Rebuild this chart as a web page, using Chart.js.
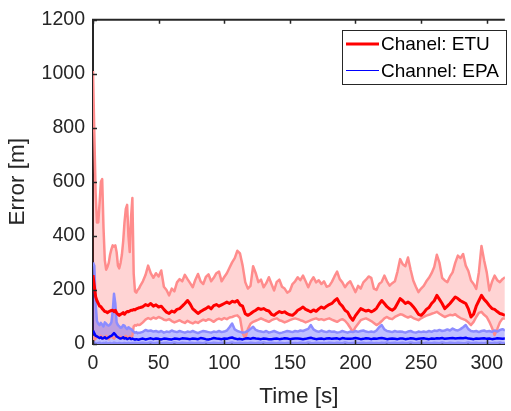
<!DOCTYPE html>
<html><head><meta charset="utf-8">
<script src="https://cdn.jsdelivr.net/npm/chart.js@4/dist/chart.umd.min.js"></script>
<style>html,body{margin:0;padding:0;background:#fff;overflow:hidden}#wrap{width:511px;height:411px;position:relative}canvas{display:block}</style>
</head><body><div id="wrap"><canvas id="c" width="511" height="411"></canvas></div>
<script>
const time = [0,1,2,3,4,5,6,7,8,9,10,11,12,13,14,15,16,17,18,19,20,21,22,23,24,25,26,27,28,29,30,31,32,33,34,35,
36,38,40,42,44,46,48,50,52,54,
56,58,60,62,64,66,68,70,72,74,
76,78,80,82,84,86,88,90,92,94,
96,98,100,102,104,106,108,110,112,114,
116,118,120,122,124,126,128,130,132,134,
136,138,140,142,144,146,148,150,152,154,
156,158,160,162,164,166,168,170,172,174,
176,178,180,182,184,186,188,190,192,194,
196,198,200,202,204,206,208,210,212,214,
216,218,220,222,224,226,228,230,232,234,
236,238,240,242,244,246,248,250,252,254,
256,258,260,262,264,266,268,270,272,274,
276,278,280,282,284,286,288,290,292,294,
296,298,300,302,304,306,308,310,312,314];

const etuUpper = [1010,780,560,450,450,520,600,610,430,310,275,285,300,330,350,365,360,365,340,290,280,300,330,380,450,500,515,400,340,470,540,260,195,190,200,205,
215,232,255,290,262,245,262,250,272,212,
200,180,205,195,228,240,232,256,240,225,
210,238,259,232,222,248,258,232,245,262,
268,232,248,262,282,302,318,345,335,290,
229,205,215,288,262,229,238,210,225,247,
222,198,230,238,212,205,190,196,222,232,
247,236,253,232,210,232,247,228,236,222,
232,212,215,230,250,268,240,228,210,224,
232,212,192,215,205,228,238,250,245,205,
200,222,230,253,232,216,225,232,268,314,
295,288,320,275,235,212,192,205,215,232,
245,262,285,330,300,245,235,229,250,265,
300,327,318,333,290,270,235,222,204,265,
363,310,265,198,230,253,236,229,240,247];

const etuMean = [255,215,175,160,150,140,138,131,126,120,119,116,119,122,124,125,120,125,115,110,106,110,112,116,110,116,120,119,122,125,125,128,126,130,132,134,
135,138,146,142,150,140,145,137,140,128,
118,113,122,118,128,131,140,150,161,148,
130,122,113,120,126,131,138,130,142,146,
140,145,150,155,150,158,155,161,145,140,
112,106,112,119,125,132,128,131,125,122,
110,106,114,120,116,119,112,108,106,114,
125,130,137,128,124,119,126,121,130,137,
132,140,146,150,160,168,150,140,125,118,
100,88,105,118,131,126,122,125,119,124,
132,148,161,150,138,130,125,132,150,168,
160,150,155,149,138,125,110,106,115,128,
135,150,160,180,165,150,131,140,150,162,
174,168,160,155,150,130,100,110,140,160,
180,165,155,142,131,128,120,113,110,106];

const etuLower = [30,15,20,28,25,22,30,26,20,24,30,22,18,25,28,24,20,26,30,25,22,27,24,20,26,30,25,22,28,24,30,65,70,68,72,70,
72,80,90,96,92,98,94,100,96,90,
88,92,85,80,84,88,82,78,86,80,
76,82,78,85,90,86,92,88,82,90,
94,90,96,92,98,100,104,106,96,40,
21,55,75,82,86,90,95,90,86,82,
88,92,95,88,85,80,84,88,92,95,
92,88,85,80,84,88,92,95,90,92,
88,92,95,90,86,82,88,92,86,75,
60,45,62,75,88,92,95,90,85,78,
70,76,85,95,100,94,92,100,105,110,
108,102,98,102,96,92,88,95,100,105,
108,112,115,119,112,106,100,104,108,106,
110,102,96,92,88,80,70,82,100,115,
119,108,100,82,60,33,55,80,94,94];

const epaUpper = [302,290,150,85,75,70,78,72,65,80,75,70,68,72,80,120,186,150,80,70,65,60,62,70,68,60,55,62,58,55,50,45,42,44,40,42,
42,45,52,48,50,46,48,44,48,42,
46,44,50,46,44,48,45,42,46,44,
48,44,40,45,48,46,44,42,46,44,
48,44,46,50,62,76,54,48,45,42,
44,48,56,64,52,48,46,44,48,42,
45,48,44,40,42,45,48,46,44,48,
46,50,48,52,56,70,54,48,45,50,
46,44,48,45,46,42,44,48,45,42,
46,44,48,45,48,50,46,44,46,44,
50,62,70,54,48,46,44,48,45,46,
45,42,46,48,44,42,46,44,46,44,
48,45,50,48,52,48,50,54,50,57,
52,50,55,62,70,55,48,46,48,44,
48,50,46,48,45,50,46,52,55,50];

const epaMean = [50,40,30,28,25,22,25,20,22,25,20,22,25,28,30,35,40,35,28,25,22,20,22,25,20,22,18,20,22,18,20,18,16,18,17,16,
18,20,17,19,21,18,20,19,17,20,
19,18,17,20,19,18,21,20,19,18,
20,19,18,22,20,18,17,19,22,20,
19,18,20,19,22,24,20,18,19,17,
20,21,19,22,20,19,18,20,19,18,
18,19,20,18,19,21,20,18,19,20,
20,19,18,19,21,23,20,18,19,20,
18,20,21,19,20,21,18,22,20,19,
19,20,22,20,18,19,21,20,18,20,
19,21,22,20,18,19,20,19,18,20,
20,18,19,21,20,18,19,20,21,19,
18,20,19,21,20,22,19,20,21,22,
20,21,22,21,23,20,19,18,20,19,
20,21,19,20,18,19,21,20,19,20];

const epaLower = [10,5,3,2,4,5,3,2,4,3,5,2,3,4,2,3,5,4,3,2,4,3,2,3,4,2,3,4,2,3,4,3,5,4,3,4,
4,5,3,4,6,3,4,5,3,4,
5,3,4,6,4,3,5,4,3,5,
4,3,5,4,3,6,4,3,5,4,
3,5,4,3,4,6,3,4,5,3,
4,3,5,4,3,5,4,6,3,4,
5,4,3,5,4,3,4,5,3,4,
3,5,4,3,6,4,3,5,4,3,
4,3,5,4,3,5,4,3,6,4,
3,4,5,3,4,5,3,4,5,3,
4,3,5,4,6,3,4,5,3,4,
5,3,4,6,4,3,5,4,3,5,
4,3,5,4,3,6,4,3,5,4,
3,5,4,3,4,6,3,4,5,3,
4,3,5,4,3,5,4,6,3,4];

const seriesLabels = ['Chanel: ETU', 'Channel: EPA'];
const xTicksStep = 50, yTicksStep = 200;

const pts = arr => time.map((t, i) => ({x: t, y: arr[i]}));
const FONT = "'Liberation Sans', Arial, Helvetica, sans-serif";
const AX = '#262626';

const frame = {
  id: 'frame',
  afterDraw(chart) {
    const {ctx, chartArea: a, scales: {x, y}} = chart;
    ctx.save();
    ctx.strokeStyle = AX;
    ctx.lineWidth = 2;
    ctx.beginPath(); ctx.moveTo(a.left - 1, a.top); ctx.lineTo(a.right, a.top); ctx.stroke();
    ctx.lineWidth = 1.5;
    x.ticks.forEach(t => {
      const px = Math.round(x.getPixelForValue(t.value)) + 0.5;
      ctx.beginPath();
      ctx.moveTo(px, a.bottom); ctx.lineTo(px, a.bottom - 4);
      ctx.moveTo(px, a.top); ctx.lineTo(px, a.top + 4);
      ctx.stroke();
    });
    y.ticks.forEach(t => {
      const py = Math.round(y.getPixelForValue(t.value)) + 0.5;
      ctx.beginPath(); ctx.moveTo(a.left, py); ctx.lineTo(a.left + 4, py); ctx.stroke();
    });
    // legend box
    const lx = 342.5, ly = 30.5, lw = 164, lh = 54;
    ctx.fillStyle = '#fff';
    ctx.fillRect(lx, ly, lw, lh);
    ctx.strokeStyle = '#262626'; ctx.lineWidth = 1;
    ctx.strokeRect(lx, ly, lw, lh);
    const ds = chart.data.datasets;
    const rows = [[ds[0], 44, 3], [ds[1], 70.5, 1]];
    ctx.font = '19px ' + FONT;
    ctx.textBaseline = 'middle';
    ctx.textAlign = 'left';
    rows.forEach(([d, yy, w]) => {
      ctx.strokeStyle = d.borderColor; ctx.lineWidth = w;
      ctx.beginPath(); ctx.moveTo(346, yy); ctx.lineTo(379, yy); ctx.stroke();
      ctx.fillStyle = '#000';
      ctx.fillText(d.label, 381, Math.round(yy) + 1);
    });
    ctx.restore();
  }
};

const common = {pointRadius: 0, pointHoverRadius: 0, tension: 0, borderJoinStyle: 'round'};

new Chart(document.getElementById('c'), {
  type: 'line',
  data: {
    datasets: [
      Object.assign({label: seriesLabels[0], data: pts(etuMean), borderColor: '#ff0000', borderWidth: 3, fill: false, order: 1}, common),
      Object.assign({label: seriesLabels[1], data: pts(epaMean), borderColor: '#0000ff', borderWidth: 2.5, fill: false, order: 0}, common),
      Object.assign({label: 'etuUpper', data: pts(etuUpper), borderColor: '#ff8c8c', borderWidth: 2.5, fill: 3, backgroundColor: 'rgba(255,0,0,0.17)', order: 5}, common),
      Object.assign({label: 'etuLower', data: pts(etuLower), borderColor: '#ff8c8c', borderWidth: 2.5, fill: false, order: 4}, common),
      Object.assign({label: 'epaUpper', data: pts(epaUpper), borderColor: '#8c8cff', borderWidth: 2.5, fill: 5, backgroundColor: 'rgba(0,0,255,0.25)', order: 3}, common),
      Object.assign({label: 'epaLower', data: pts(epaLower), borderColor: '#8c8cff', borderWidth: 2.5, fill: false, order: 2}, common)
    ]
  },
  options: {
    responsive: false,
    animation: false,
    devicePixelRatio: 1,
    layout: {padding: {top: 17, right: 0, bottom: 0, left: 0}},
    plugins: {
      legend: {display: false},
      tooltip: {enabled: false},
      filler: {drawTime: 'beforeDatasetsDraw', propagate: false}
    },
    scales: {
      x: {
        type: 'linear', min: 0, max: 313.8,
        grid: {display: false, drawTicks: false},
        border: {display: true, color: AX, width: 2},
        ticks: {stepSize: xTicksStep, includeBounds: false, color: AX, font: {family: FONT, size: 19.5}, padding: 8, maxRotation: 0, callback: v => String(v)},
        title: {display: true, text: 'Time [s]', color: AX, font: {family: FONT, size: 22.5}, padding: {top: 0, bottom: 1}},
        afterFit(s) { s.height = 67; }
      },
      y: {
        type: 'linear', min: 0, max: 1200,
        grid: {display: false, drawTicks: false},
        border: {display: true, color: AX, width: 2},
        ticks: {stepSize: yTicksStep, color: AX, font: {family: FONT, size: 19.5}, padding: 8, callback: v => String(v)},
        title: {display: true, text: 'Error [m]', color: AX, font: {family: FONT, size: 22.5}, padding: {top: 4, bottom: 0}},
        afterFit(s) { s.width = 93; }
      }
    }
  },
  plugins: [frame]
});
</script>
</body></html>
